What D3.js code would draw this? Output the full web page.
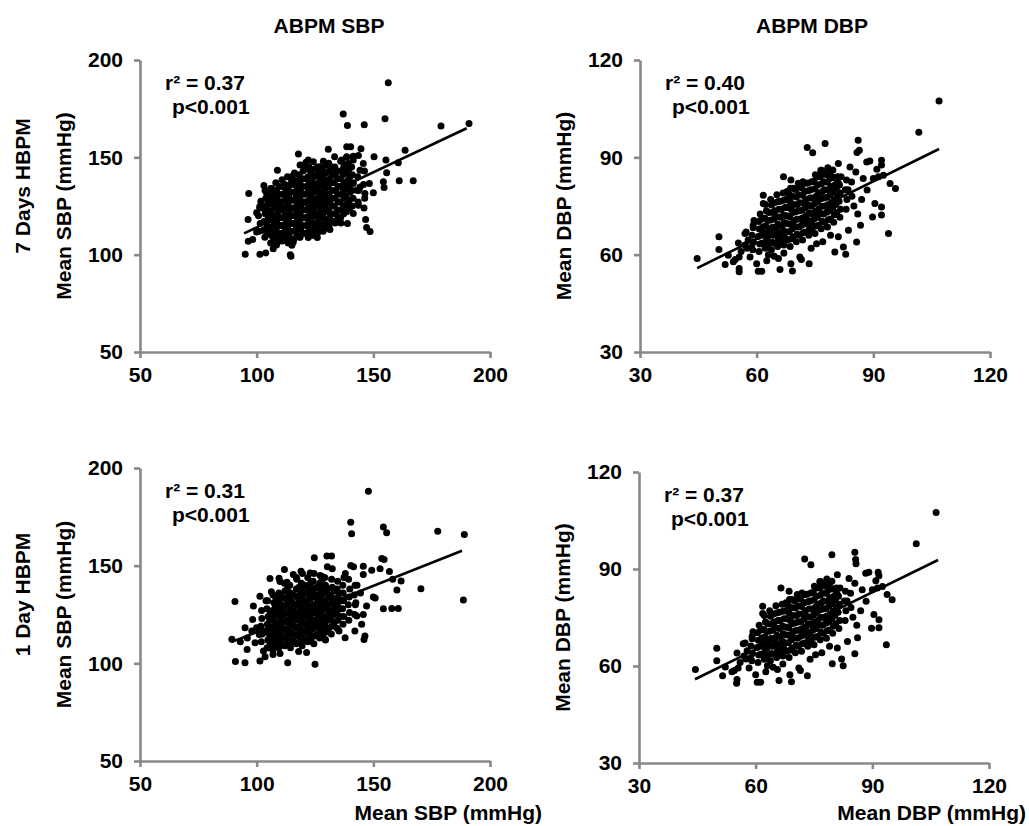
<!DOCTYPE html>
<html>
<head>
<meta charset="utf-8">
<script src="https://cdn.jsdelivr.net/npm/d3@7"></script>
<style>
  body { margin: 0; background: #fff; }
  svg { display: block; }
  text { font-family: "Liberation Sans", Arial, sans-serif; font-weight: bold; fill: #000; }
</style>
</head>
<body>
<svg id="chart" width="1029" height="826"></svg>
<script>
// ---- labels and ticks ----
const columnTitles = ["ABPM SBP", "ABPM DBP"];
const rowTitles = ["7 Days HBPM", "1 Day HBPM"];
const yAxisTitles = ["Mean SBP (mmHg)", "Mean DBP (mmHg)", "Mean SBP (mmHg)", "Mean DBP (mmHg)"];
const xAxisTitles = ["Mean SBP (mmHg)", "Mean DBP (mmHg)"];
const sbpTicks = [50, 100, 150, 200];
const dbpTicks = [30, 60, 90, 120];
const r2Labels = ["r\u00b2 = 0.37", "r\u00b2 = 0.40", "r\u00b2 = 0.31", "r\u00b2 = 0.37"];
const pLabels = ["p<0.001", "p<0.001", "p<0.001", "p<0.001"];

// ---- linear fits (HBPM = slope * ABPM + intercept) over the ABPM range ----
const fitSlopes = [0.566, 0.59, 0.473, 0.59];
const fitIntercepts = [57.4, 29.5, 68.7, 29.7];
const fitXRanges = [[94.6, 190], [44.7, 106.9], [89.1, 188], [44.4, 106.9]];

// ---- [ABPM, HBPM] pairs: 7-day SBP ----
const sbp7Points = [
  [101,112],[101.5,116],[100.8,120],[101.3,124],[101.8,127.5],
  [103.5,109],[103.8,113],[103.2,117],[103.7,121],[103.4,125],[103.9,129],[103.6,133],
  [106,106],[106.3,110],[105.8,114],[106.2,118],[106.1,122],[105.9,126],[106.4,130],[106,134],
  [108.5,105],[108.8,109],[108.3,113],[108.6,117],[108.9,121],[108.4,125],[108.7,129],[108.5,133],[108.2,137],
  [111,107],[111.3,111],[110.8,115],[111.2,119],[111,123],[110.7,127],[111.4,131],[111.1,135],[110.9,138.5],
  [113.5,106],[113.8,110],[113.3,114],[113.6,118],[113.9,122],[113.4,126],[113.7,130],[113.5,134],[113.2,140],
  [116,108],[116.3,112],[115.8,116],[116.2,120],[116.1,124],[115.9,128],[116.4,132],[116,136],[116.2,142],
  [118.5,109],[118.8,113],[118.3,117],[118.6,121],[118.9,125],[118.4,129],[118.7,133],[118.5,137],[118.2,141],[118.6,146],
  [121,111],[121.3,115],[120.8,119],[121.2,123],[121,127],[120.7,131],[121.4,135],[121.1,139],[120.9,144],[121.2,147.5],
  [123.5,110],[123.8,114],[123.3,118],[123.6,122],[123.9,126],[123.4,130],[123.7,134],[123.5,138],[123.2,142],
  [126,113],[126.3,117],[125.8,121],[126.2,125],[126.1,129],[125.9,133],[126.4,137],[126,141],[126.2,145],
  [128.5,112],[128.8,116],[128.3,120],[128.6,124],[128.9,128],[128.4,132],[128.7,136],[128.5,140],[128.2,144],[128.6,148],
  [131,115],[131.3,119],[130.8,123],[131.2,127],[131,131],[130.7,135],[131.4,139],[131.1,143],[130.9,147],
  [133.5,117],[133.8,121],[133.3,125],[133.6,129],[133.9,133],[133.4,137],[133.7,141],[133.5,145],
  [136,119],[136.3,123],[135.8,127],[136.2,131],[136.1,135],[135.9,139],[136.4,143],[136,148],
  [138.5,122],[138.8,126],[138.3,130],[138.6,134],[138.9,138],[138.4,142],[138.7,146],[138.5,150],
  [141,125],[141.3,129],[140.8,133],[141.2,137],[141,141],[140.7,145],
  [143.5,127],[143.8,133],[143.3,140],[143.6,151],
  [146,124],[146.3,129],[145.8,136],[146.2,143],
  [104.8,111],[104.6,115],[105,119],[104.7,123],[104.9,127],
  [107.3,108],[107.1,112],[107.5,116],[107.2,120],[107.4,124],[107,128],[107.3,132],
  [109.8,107],[109.6,111],[110,115],[109.7,119],[109.9,123],[109.5,127],[109.8,131],[109.6,135],
  [112.3,108],[112.1,112],[112.5,116],[112.2,120],[112.4,124],[112,128],[112.3,132],[112.1,136],
  [114.8,108],[114.6,112],[115,116],[114.7,120],[114.9,124],[114.5,128],[114.8,132],[114.6,136],[114.9,138.5],
  [117.3,110],[117.1,114],[117.5,118],[117.2,122],[117.4,126],[117,130],[117.3,134],[117.1,138],
  [119.8,111],[119.6,115],[120,119],[119.7,123],[119.9,127],[119.5,131],[119.8,135],[119.6,139],[119.9,143],
  [122.3,112],[122.1,116],[122.5,120],[122.2,124],[122.4,128],[122,132],[122.3,136],[122.1,140],[122.4,145],
  [124.8,112],[124.6,116],[125,120],[124.7,124],[124.9,128],[124.5,132],[124.8,136],[124.6,140],[124.9,144],
  [127.3,115],[127.1,119],[127.5,123],[127.2,127],[127.4,131],[127,135],[127.3,139],[127.1,143],
  [129.8,114],[129.6,118],[130,122],[129.7,126],[129.9,130],[129.5,134],[129.8,138],[129.6,142],[129.9,146],
  [132.3,117],[132.1,121],[132.5,125],[132.2,129],[132.4,133],[132,137],[132.3,141],[132.1,145],
  [134.8,119],[134.6,123],[135,127],[134.7,131],[134.9,135],[134.5,139],[134.8,143],
  [137.3,121],[137.1,125],[137.5,129],[137.2,133],[137.4,137],[137,141],[137.3,145],
  [139.8,124],[139.6,128],[140,132],[139.7,136],[139.9,140],[139.5,144],
  [95.1,100.2],[96.3,118.1],[96.6,131.4],[96.4,106.9],[98.3,107.8],[101.4,100.2],[103.9,100.9],[107.1,103],
  [114.4,99.9],[114.7,99.2],[115.1,104.9],[108.9,143.4],[115.3,140.3],[117.9,151.7],[103.1,135.5],[106.4,110],
  [122.1,108.8],[126,108.8],[131.4,112.9],[136.1,116.3],[146.7,118.1],[147.1,114],[148.6,111.9],[130.7,154.1],
  [137.1,172.2],[138.9,166.4],[146.1,166.7],[155,169.8],[156.4,188.3],[138.6,155.4],[140.3,155.4],[144.7,154.4],
  [150.3,150.3],[133.4,150.3],[141.4,150.6],[163.6,153.7],[155.4,148.6],[160.7,147.2],[155.7,142.1],[161.1,138],
  [167.1,138],[154.3,137.4],[154.6,134.5],[150,131.8],[146.4,131.4],[148.3,136.6],[144.3,143.4],[145.7,146.8],
  [179,166.1],[191,167.4],[137.9,146],
  [103.3,123.4],[102.9,112.6],[100,111.7],[100,121.5],[101.4,124.9],[104.3,131.4],[106.4,134],[108.3,131.4],
  [112.9,132.3],[110.7,124.5],[141.4,136.6],[142.9,133.1],[144.3,134.8],[143.6,125.4],[141.4,121.1],[138.9,116],
  [135.7,119.4],[133.6,116.3],[130,114.2],[126.4,111.7],[124.3,110],[118.6,109.1],[115.7,106.5],[112.9,111.7],
  [110,108.2],[107.1,112.6],[120,146],[122.1,148.6],[124.3,147.7],[127.1,145.1],[132.9,144.3],[136.4,148.6],
  [138.6,150.3],[139.3,146.8],[141.4,148.6]
];

// ---- [ABPM, HBPM] pairs: 7-day DBP ----
const dbp7Points = [
  [57.5,62],[57.8,64.5],[57.3,67],
  [59,61.5],[59.2,63.8],[58.8,66],[59.1,68.3],[59.3,70.5],
  [60.6,61],[60.8,63.3],[60.4,65.6],[60.7,67.9],[60.5,70.2],[60.9,72.5],
  [62.2,62],[62.4,64.3],[62,66.6],[62.3,68.9],[62.1,71.2],[62.5,73.5],[62.2,75.5],
  [63.8,61.5],[64,63.8],[63.6,66.1],[63.9,68.4],[63.7,70.7],[64.1,73],[63.8,75.3],[63.6,77],
  [65.4,62.5],[65.6,64.8],[65.2,67.1],[65.5,69.4],[65.3,71.7],[65.7,74],[65.4,76.3],[65.2,78.5],
  [67,63],[67.2,65.3],[66.8,67.6],[67.1,69.9],[66.9,72.2],[67.3,74.5],[67,76.8],[66.8,79],
  [68.6,62.5],[68.8,64.8],[68.4,67.1],[68.7,69.4],[68.5,71.7],[68.9,74],[68.6,76.3],[68.4,78.6],[68.7,80.5],
  [70.2,64],[70.4,66.3],[70,68.6],[70.3,70.9],[70.1,73.2],[70.5,75.5],[70.2,77.8],[70,80.1],
  [71.8,64.5],[72,66.8],[71.6,69.1],[71.9,71.4],[71.7,73.7],[72.1,76],[71.8,78.3],[71.6,80.6],[71.9,82.5],
  [73.4,66],[73.6,68.3],[73.2,70.6],[73.5,72.9],[73.3,75.2],[73.7,77.5],[73.4,79.8],[73.2,82.1],
  [75,66.5],[75.2,68.8],[74.8,71.1],[75.1,73.4],[74.9,75.7],[75.3,78],[75,80.3],[74.8,82.6],[75.1,84.6],
  [76.6,68],[76.8,70.3],[76.4,72.6],[76.7,74.9],[76.5,77.2],[76.9,79.5],[76.6,81.8],[76.4,84.1],[76.7,86],
  [78.2,68.5],[78.4,70.8],[78,73.1],[78.3,75.4],[78.1,77.7],[78.5,80],[78.2,82.3],[78,84.6],[78.3,86.8],
  [79.8,70],[80,72.3],[79.6,74.6],[79.9,76.9],[79.7,79.2],[80.1,81.5],[79.8,83.8],[79.6,86.1],
  [81.4,71.5],[81.6,74],[81.2,76.5],[81.5,79],[81.3,81.5],[81.7,84],
  [83,74],[83.2,77],[82.8,80],[83.1,83],
  [61.4,63.5],[61.2,66],[61.6,68.5],[61.3,71],
  [63,63],[62.8,65.5],[63.2,68],[62.9,70.5],[63.1,73],
  [64.6,63.5],[64.4,66],[64.8,68.5],[64.5,71],[64.7,73.5],[64.5,76],
  [66.2,64],[66,66.5],[66.4,69],[66.1,71.5],[66.3,74],[66.1,76.5],
  [67.8,64.5],[67.6,67],[68,69.5],[67.7,72],[67.9,74.5],[67.6,77],[67.8,79.5],
  [69.4,65.5],[69.2,68],[69.6,70.5],[69.3,73],[69.5,75.5],[69.2,78],[69.4,80.5],
  [71,66],[70.8,68.5],[71.2,71],[70.9,73.5],[71.1,76],[70.8,78.5],[71,81],
  [72.6,67],[72.4,69.5],[72.8,72],[72.5,74.5],[72.7,77],[72.4,79.5],[72.6,82],
  [74.2,67.5],[74,70],[74.4,72.5],[74.1,75],[74.3,77.5],[74,80],[74.2,82.5],
  [75.8,69],[75.6,71.5],[76,74],[75.7,76.5],[75.9,79],[75.6,81.5],[75.8,84],
  [77.4,70],[77.2,72.5],[77.6,75],[77.3,77.5],[77.5,80],[77.2,82.5],[77.4,85],
  [79,71],[78.8,73.5],[79.2,76],[78.9,78.5],[79.1,81],[78.8,83.5],[79,85.5],
  [80.6,73],[80.4,75.5],[80.8,78],[80.5,80.5],[80.7,83],
  [44.7,58.8],[50.3,65.5],[50.3,61.6],[51.9,57],[52.7,59.8],[54,57.8],[54.5,58.5],[55.5,55.7],[55.5,54.7],
  [55.3,63.6],[57,66.5],[55.5,59.3],[58.3,59.3],[58.7,62.4],[59.1,69.1],[60,57.2],[60.4,54.9],[61.3,54.9],
  [62.6,58.1],[61.7,78.3],[61.7,75.8],[65.6,58.8],[66,55.4],[66.9,84],[68.8,83],[68.8,57.2],[69.2,55],
  [71.1,59.3],[71.5,58.5],[70.7,82],[73,93],[74.4,91.4],[73.5,57.2],[75.4,63.4],[76.5,86],[77.6,94.3],
  [80.1,60.8],[81,88.1],[81,65.5],[82.3,62.4],[82.9,60.1],[83.6,67.5],[84,87],[84.4,82.4],[85.7,63.9],
  [86.1,95.3],[86.4,92.2],[85.8,91.5],[86.7,69.1],[88.3,88.6],[89.1,88.9],[88.4,79.9],[87.4,83.5],[90,83.5],
  [90.4,75.8],[90.9,86.3],[89.8,71.6],[92.1,72.2],[92.1,74.7],[92.1,89.1],[92.1,87.6],[91.3,84],[92.6,84.5],
  [93.9,66.5],[94.3,81.9],[95.7,80.4],[101.7,97.7],[106.9,107.4],[80.8,84],[81,82],[84.5,78],[85,75],
  [86,72.5],[87,77],[83.5,80],[85.5,85.5],[56,61],[57,63],[63,60],[64.5,59.5],[67,60.5],[74,62],[77,64],[79,66]
];

// ---- [ABPM, HBPM] pairs: 1-day SBP ----
const sbp1Points = [
  [102,111],[102.4,115],[101.8,119],[102.2,123],[102.1,127],
  [104.5,108],[104.8,112],[104.3,116],[104.6,120],[104.9,124],[104.4,128],[104.7,132],
  [107,107],[107.3,111],[106.8,115],[107.2,119],[107.1,123],[106.9,127],[107.4,131],[107,135],
  [109.5,108],[109.8,112],[109.3,116],[109.6,120],[109.9,124],[109.4,128],[109.7,132],[109.5,136],
  [112,109],[112.3,113],[111.8,117],[112.2,121],[112,125],[111.7,129],[112.4,133],[112.1,137],[111.9,141],
  [114.5,108],[114.8,112],[114.3,116],[114.6,120],[114.9,124],[114.4,128],[114.7,132],[114.5,136],[114.2,140],
  [117,110],[117.3,114],[116.8,118],[117.2,122],[117.1,126],[116.9,130],[117.4,134],[117,138],[117.2,143],
  [119.5,109],[119.8,113],[119.3,117],[119.6,121],[119.9,125],[119.4,129],[119.7,133],[119.5,137],[119.2,141],[119.6,146],
  [122,111],[122.3,115],[121.8,119],[122.2,123],[122,127],[121.7,131],[122.4,135],[122.1,139],[121.9,144],
  [124.5,110],[124.8,114],[124.3,118],[124.6,122],[124.9,126],[124.4,130],[124.7,134],[124.5,138],[124.2,142],[124.6,146],
  [127,113],[127.3,117],[126.8,121],[127.2,125],[127.1,129],[126.9,133],[127.4,137],[127,141],[127.2,145],
  [129.5,112],[129.8,116],[129.3,120],[129.6,124],[129.9,128],[129.4,132],[129.7,136],[129.5,140],[129.2,144],
  [132,115],[132.3,119],[131.8,123],[132.2,127],[132,131],[131.7,135],[132.4,139],[132.1,143],
  [134.5,118],[134.8,122],[134.3,126],[134.6,130],[134.9,134],[134.4,138],[134.7,142],
  [137,120],[137.3,124],[136.8,128],[137.2,132],[137.1,136],[136.9,140],[137.4,144],
  [139.5,122],[139.8,126],[139.3,130],[139.6,134],[139.9,138],[139.4,143],
  [142,125],[142.3,130],[141.8,135],[142.2,140],
  [105.8,110],[105.6,114],[106,118],[105.7,122],[105.9,126],
  [108.3,109],[108.1,113],[108.5,117],[108.2,121],[108.4,125],[108,129],[108.3,133],
  [110.8,110],[110.6,114],[111,118],[110.7,122],[110.9,126],[110.5,130],[110.8,134],
  [113.3,110],[113.1,114],[113.5,118],[113.2,122],[113.4,126],[113,130],[113.3,134],[113.1,138],
  [115.8,111],[115.6,115],[116,119],[115.7,123],[115.9,127],[115.5,131],[115.8,135],
  [118.3,111],[118.1,115],[118.5,119],[118.2,123],[118.4,127],[118,131],[118.3,135],[118.1,139],
  [120.8,112],[120.6,116],[121,120],[120.7,124],[120.9,128],[120.5,132],[120.8,136],[120.6,140],
  [123.3,113],[123.1,117],[123.5,121],[123.2,125],[123.4,129],[123,133],[123.3,137],[123.1,141],
  [125.8,115],[125.6,119],[126,123],[125.7,127],[125.9,131],[125.5,135],[125.8,139],
  [128.3,115],[128.1,119],[128.5,123],[128.2,127],[128.4,131],[128,135],[128.3,139],[128.1,143],
  [130.8,118],[130.6,122],[131,126],[130.7,130],[130.9,134],[130.5,138],
  [133.3,121],[133.1,125],[133.5,129],[133.2,133],[133.4,137],
  [135.8,124],[135.6,128],[136,132],[135.7,136],
  [147.9,188.1],[140.3,172.2],[140.7,166.4],[154.3,169.8],[155.7,166.8],[177.6,167.6],[189,165.9],[188.6,132.4],
  [90.7,131.7],[89.4,112.3],[90.9,100.9],[95,100.3],[95.9,107.1],[95,118.2],[98.3,122.5],[101.4,101.2],
  [103.6,103.4],[113.3,100.3],[125,99.5],[121.4,105.5],[111.9,148],[105.7,143.4],[109.6,143.6],[119,147.2],
  [124.7,154],[130.1,154.9],[132.1,154.9],[130.3,149.4],[132.4,148.4],[140.3,150.1],[141.5,149.5],[145.7,149.7],
  [149.3,147.7],[145.7,145.5],[152.9,148.4],[153.6,153.7],[154.6,153.2],[156.9,147],[158.3,143.1],[160.1,137.5],
  [161.9,142.1],[170.4,138.2],[157.9,128.1],[160.7,128.1],[154.3,127.9],[150,134],[150.8,133.5],[147.1,129.3],
  [145.7,125],[142.9,124.2],[146.4,114],[146,112.2],[142.1,116.5],[135.3,116.5],[137.9,113.1],[129.3,112.3],
  [122.1,115.7],[100,118.2],[101.1,114.8],[102.9,106.3],[105.7,107.9],[99.3,110.6],[97.9,116.5],[101.4,134.4],
  [104,132],[98.6,129.3],[106.3,136.6],[110,141.9],[113,141.5],[117,144],[115.7,145.5],[122.9,146.3],
  [127.9,144.6],[138,146],[143,140],[144.5,136],[142.5,131],[145,120],[118,106],[110,105],[107,104.5],
  [93,111],[96,113]
];

// ---- [ABPM, HBPM] pairs: 1-day DBP ----
const dbp1Points = [
  [57.5,62.2],[57.8,64.7],[57.3,67.1],
  [59,61.6],[59.2,63.9],[58.8,66.2],[59.1,68.4],[59.3,70.6],
  [60.6,61.1],[60.8,63.4],[60.4,65.7],[60.7,68],[60.5,70.3],[60.9,72.6],
  [62.2,62.1],[62.4,64.4],[62,66.7],[62.3,69],[62.1,71.3],[62.5,73.6],[62.2,75.6],
  [63.8,61.6],[64,63.9],[63.6,66.2],[63.9,68.5],[63.7,70.8],[64.1,73.1],[63.8,75.4],[63.6,77.1],
  [65.4,62.6],[65.6,64.9],[65.2,67.2],[65.5,69.5],[65.3,71.8],[65.7,74.1],[65.4,76.4],[65.2,78.6],
  [67,63.1],[67.2,65.4],[66.8,67.7],[67.1,70],[66.9,72.3],[67.3,74.6],[67,76.9],[66.8,79.1],
  [68.6,62.6],[68.8,64.9],[68.4,67.2],[68.7,69.5],[68.5,71.8],[68.9,74.1],[68.6,76.4],[68.4,78.7],[68.7,80.6],
  [70.2,64.1],[70.4,66.4],[70,68.7],[70.3,71],[70.1,73.3],[70.5,75.6],[70.2,77.9],[70,80.2],
  [71.8,64.6],[72,66.9],[71.6,69.2],[71.9,71.5],[71.7,73.8],[72.1,76.1],[71.8,78.4],[71.6,80.7],[71.9,82.6],
  [73.4,66.1],[73.6,68.4],[73.2,70.7],[73.5,73],[73.3,75.3],[73.7,77.6],[73.4,79.9],[73.2,82.2],
  [75,66.6],[75.2,68.9],[74.8,71.2],[75.1,73.5],[74.9,75.8],[75.3,78.1],[75,80.4],[74.8,82.7],[75.1,84.7],
  [76.6,68.1],[76.8,70.4],[76.4,72.7],[76.7,75],[76.5,77.3],[76.9,79.6],[76.6,81.9],[76.4,84.2],[76.7,86.1],
  [78.2,68.6],[78.4,70.9],[78,73.2],[78.3,75.5],[78.1,77.8],[78.5,80.1],[78.2,82.4],[78,84.7],[78.3,86.9],
  [79.8,70.1],[80,72.4],[79.6,74.7],[79.9,77],[79.7,79.3],[80.1,81.6],[79.8,83.9],[79.6,86.2],
  [81.4,71.6],[81.6,74.1],[81.2,76.6],[81.5,79.1],[81.3,81.6],[81.7,84.1],
  [83,74.1],[83.2,77.1],[82.8,80.1],[83.1,83.1],
  [61.4,63.6],[61.2,66.1],[61.6,68.6],[61.3,71.1],
  [63,63.1],[62.8,65.6],[63.2,68.1],[62.9,70.6],[63.1,73.1],
  [64.6,63.6],[64.4,66.1],[64.8,68.6],[64.5,71.1],[64.7,73.6],[64.5,76.1],
  [66.2,64.1],[66,66.6],[66.4,69.1],[66.1,71.6],[66.3,74.1],[66.1,76.6],
  [67.8,64.6],[67.6,67.1],[68,69.6],[67.7,72.1],[67.9,74.6],[67.6,77.1],[67.8,79.6],
  [69.4,65.6],[69.2,68.1],[69.6,70.6],[69.3,73.1],[69.5,75.6],[69.2,78.1],[69.4,80.6],
  [71,66.1],[70.8,68.6],[71.2,71.1],[70.9,73.6],[71.1,76.1],[70.8,78.6],[71,81.1],
  [72.6,67.1],[72.4,69.6],[72.8,72.1],[72.5,74.6],[72.7,77.1],[72.4,79.6],[72.6,82.1],
  [74.2,67.6],[74,70.1],[74.4,72.6],[74.1,75.1],[74.3,77.6],[74,80.1],[74.2,82.6],
  [75.8,69.1],[75.6,71.6],[76,74.1],[75.7,76.6],[75.9,79.1],[75.6,81.6],[75.8,84.1],
  [77.4,70.1],[77.2,72.6],[77.6,75.1],[77.3,77.6],[77.5,80.1],[77.2,82.6],[77.4,85.1],
  [79,71.1],[78.8,73.6],[79.2,76.1],[78.9,78.6],[79.1,81.1],[78.8,83.6],[79,85.6],
  [80.6,73.1],[80.4,75.6],[80.8,78.1],[80.5,80.6],[80.7,83.1],
  [44.5,58.9],[50,65.5],[50,61.6],[51.5,57],[52.2,59.7],[53.9,58.2],[54.5,58.6],[55.2,55.8],[55.1,54.7],
  [55.2,64],[56.8,66.9],[55.5,59.4],[58.3,59.4],[58.7,62.5],[59.1,69.2],[60,57.3],[60.4,55],[61.3,55],
  [62.6,58.2],[61.8,78.5],[61.8,76.2],[65.6,58.9],[66,55.5],[66.5,84.1],[68.6,83.1],[68.8,57.3],[69.2,55.1],
  [71.1,59.4],[71.5,58.6],[70.7,82.1],[72.6,93.1],[74.2,91.3],[73.3,57],[75.4,63.5],[76.5,86.1],[79.6,94.4],
  [79.7,60.7],[81,88.2],[81,65.6],[82.1,62.2],[82.5,60.1],[83.6,67.6],[84,87.1],[84.4,82.5],[85.5,63.8],
  [85.5,95.2],[85.7,92.9],[85.8,91.6],[86.2,68.7],[88.3,88.7],[89.1,89],[88.4,80],[87.4,83.6],[90,83.6],
  [90.4,75.9],[90.9,86.4],[89.8,71.7],[91.7,71.8],[91.7,74.3],[91.5,89],[91.7,87.9],[91.3,84.1],[92.6,84.6],
  [93.6,66.6],[93.8,82.1],[95.1,80.5],[101.3,97.8],[106.4,107.5],[80.8,84.1],[81,82.1],[84.5,78.1],[85,75.1],
  [86,72.6],[87,77.1],[83.5,80.1],[85.5,85.6],[56,61.1],[57,63.1],[63,60.1],[64.5,59.6],[67,60.6],[74,62.1],[77,64.1],[79,66.1]
];

// ---- page layout (pixel frames of the four plot areas, title anchors) ----
const frames = [
  { left: 140, top: 60,  right: 490, bottom: 352 },
  { left: 640, top: 60,  right: 990, bottom: 352 },
  { left: 140, top: 468, right: 490, bottom: 761 },
  { left: 639, top: 472, right: 989, bottom: 763 }
];
const columnTitleX = [329, 812];
const xAxisTitleEnd = [542, 1026];

const panels = [
  { points: sbp7Points, ticks: sbpTicks },
  { points: dbp7Points, ticks: dbpTicks },
  { points: sbp1Points, ticks: sbpTicks },
  { points: dbp1Points, ticks: dbpTicks }
];

const AXIS_COLOR = "#888888";
const FONT = "21px";
const svg = d3.select("#chart");

panels.forEach((p, i) => {
  const f = frames[i];
  const x = d3.scaleLinear().domain(d3.extent(p.ticks)).range([f.left, f.right]);
  const y = d3.scaleLinear().domain(d3.extent(p.ticks)).range([f.bottom, f.top]);
  const g = svg.append("g");

  // axes
  const styleAxis = sel => {
    sel.attr("font-family", null).attr("font-size", null);
    sel.select(".domain").attr("stroke", AXIS_COLOR).attr("stroke-width", 2.6);
    sel.selectAll(".tick line").attr("stroke", AXIS_COLOR).attr("stroke-width", 2.6);
    sel.selectAll(".tick text").style("font-size", FONT).attr("fill", "#000");
  };
  g.append("g")
    .attr("transform", `translate(${f.left},0)`)
    .call(d3.axisLeft(y).tickValues(p.ticks).tickSize(6).tickSizeOuter(0).tickPadding(11))
    .call(styleAxis);
  g.append("g")
    .attr("transform", `translate(0,${f.bottom})`)
    .call(d3.axisBottom(x).tickValues(p.ticks).tickSize(6).tickSizeOuter(0).tickPadding(9))
    .call(styleAxis);

  // points
  g.append("g").selectAll("circle")
    .data(p.points)
    .join("circle")
    .attr("cx", d => x(d[0]))
    .attr("cy", d => y(d[1]))
    .attr("r", 3.5)
    .attr("fill", "#000");

  // fitted line
  const [x0, x1] = fitXRanges[i];
  g.append("line")
    .attr("x1", x(x0)).attr("y1", y(fitSlopes[i] * x0 + fitIntercepts[i]))
    .attr("x2", x(x1)).attr("y2", y(fitSlopes[i] * x1 + fitIntercepts[i]))
    .attr("stroke", "#000").attr("stroke-width", 2.6);

  // statistics
  g.append("text").attr("x", f.left + 25).attr("y", f.top + 30)
    .style("font-size", FONT).text(r2Labels[i]);
  g.append("text").attr("x", f.left + 32).attr("y", f.top + 54)
    .style("font-size", FONT).text(pLabels[i]);

  // y-axis title
  svg.append("text")
    .attr("transform", `translate(${f.left - 77},${(f.top + f.bottom) / 2}) rotate(-90)`)
    .attr("text-anchor", "middle").attr("dominant-baseline", "central")
    .style("font-size", FONT).text(yAxisTitles[i]);
});

// column titles
columnTitles.forEach((t, c) => {
  svg.append("text")
    .attr("x", columnTitleX[c])
    .attr("y", 33)
    .attr("text-anchor", "middle")
    .style("font-size", FONT).text(t);
});

// row titles
rowTitles.forEach((t, r) => {
  const f = frames[r * 2];
  svg.append("text")
    .attr("transform", `translate(22,${(f.top + f.bottom) / 2 - 20}) rotate(-90)`)
    .attr("text-anchor", "middle").attr("dominant-baseline", "central")
    .style("font-size", FONT).text(t);
});

// bottom x-axis titles
xAxisTitles.forEach((t, c) => {
  svg.append("text")
    .attr("x", xAxisTitleEnd[c])
    .attr("y", 820)
    .attr("text-anchor", "end")
    .style("font-size", FONT).text(t);
});
</script>
</body>
</html>
